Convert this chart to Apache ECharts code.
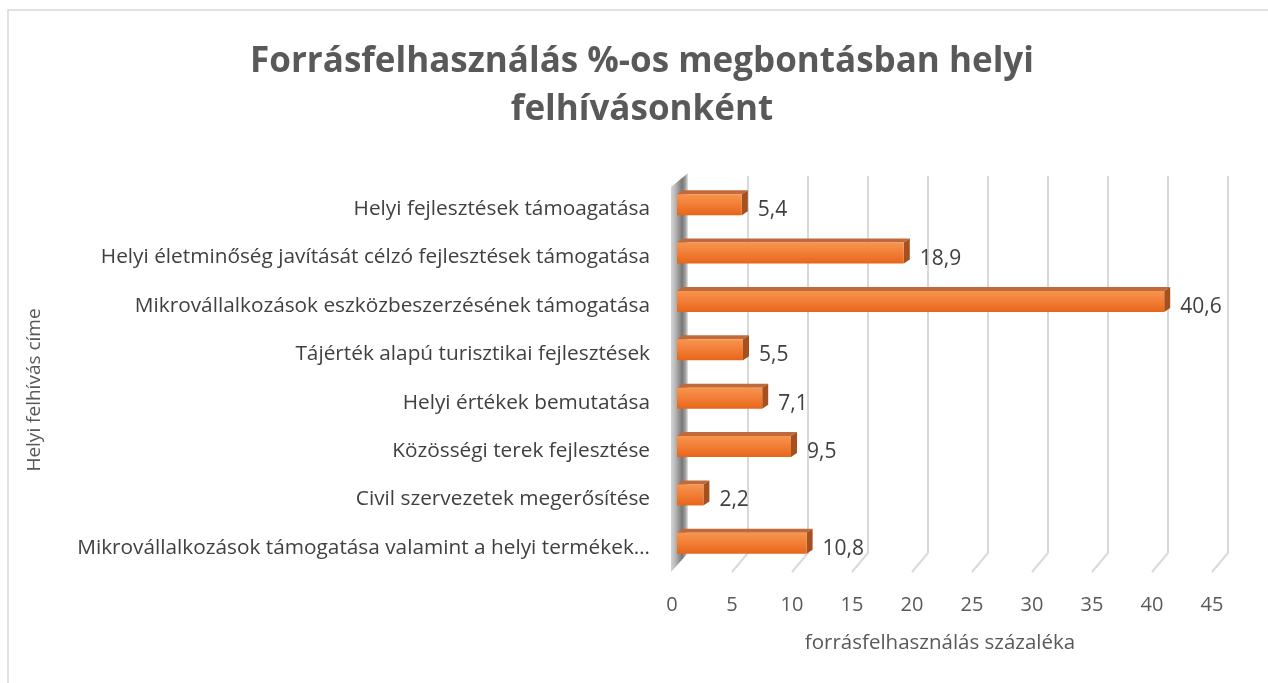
<!DOCTYPE html>
<html><head><meta charset="utf-8">
<script src="https://cdn.jsdelivr.net/npm/echarts@6/dist/echarts.min.js"></script>
<style>html,body{margin:0;padding:0;background:#fff}#c{width:1268px;height:683px}</style>
</head><body><div id="c"></div>
<script>
const titleLines = ['Forrásfelhasználás %-os megbontásban helyi', 'felhívásonként'];
const categories = [
  'Helyi fejlesztések támoagatása',
  'Helyi életminőség javítását célzó fejlesztések támogatása',
  'Mikrovállalkozások eszközbeszerzésének támogatása',
  'Tájérték alapú turisztikai fejlesztések',
  'Helyi értékek bemutatása',
  'Közösségi terek fejlesztése',
  'Civil szervezetek megerősítése',
  'Mikrovállalkozások támogatása valamint a helyi termékek…'
];
const values = [5.4, 18.9, 40.6, 5.5, 7.1, 9.5, 2.2, 10.8];
const xTicks = [0, 5, 10, 15, 20, 25, 30, 35, 40, 45];
const xAxisName = 'forrásfelhasználás százaléka';
const yAxisName = 'Helyi felhívás címe';

const FONT = '"Open Sans", sans-serif';
const TEXT = '#404040';
const BACK_DX = 11, FRONT_DX = -6;

const chart = echarts.init(document.getElementById('c'));
chart.setOption({
  animation: false,
  backgroundColor: '#fff',
  grid: { left: 677, width: 540, top: 185, height: 387, containLabel: false },
  xAxis: {
    type: 'value', min: 0, max: 45, interval: 5,
    axisLine: { show: false }, axisTick: { show: false }, splitLine: { show: false },
    axisLabel: { fontFamily: FONT, fontSize: 20, color: '#595959', margin: 23, padding: [0, 10, 0, 0] }
  },
  yAxis: {
    type: 'category', data: categories, inverse: true,
    axisLine: { show: false }, axisTick: { show: false },
    axisLabel: { fontFamily: FONT, fontSize: 20.8, color: TEXT, margin: 27 }
  },
  graphic: [
    { type: 'rect', silent: true, z: -10, shape: { x: 8, y: 10, width: 1300, height: 700 },
      style: { fill: 'none', stroke: '#d9d9d9', lineWidth: 1.5 } },
    { type: 'text', x: 642, y: 62, style: { text: titleLines[0], fontFamily: FONT, fontWeight: 'bold', fontSize: 35,
      fill: '#595959', align: 'center', verticalAlign: 'middle' } },
    { type: 'text', x: 642, y: 110, style: { text: titleLines[1], fontFamily: FONT, fontWeight: 'bold', fontSize: 35,
      fill: '#595959', align: 'center', verticalAlign: 'middle' } },
    { type: 'text', x: 940, y: 643, style: { text: xAxisName, fontFamily: FONT, fontSize: 20.5,
      fill: '#595959', align: 'center', verticalAlign: 'middle' } },
    { type: 'text', x: 35, y: 390, rotation: Math.PI / 2, style: { text: yAxisName, fontFamily: FONT, fontSize: 19,
      fill: '#595959', align: 'center', verticalAlign: 'middle' } }
  ],
  series: [
    {
      type: 'custom', z: 1, silent: true,
      data: xTicks.map(v => [v, 0]),
      renderItem: function (params, api) {
        const v = api.value(0);
        const x = api.coord([v, 0])[0];
        const cs = params.coordSys;
        const top = cs.y, bottom = cs.y + cs.height;
        if (v === 0) {
          return {
            type: 'polygon',
            shape: { points: [[x + FRONT_DX, top + 2], [x + BACK_DX, top - 12], [x + BACK_DX, bottom - 19], [x + FRONT_DX, bottom]] },
            style: {
              fill: new echarts.graphic.LinearGradient(0, 0, 1, 0, [
                { offset: 0, color: '#d4d4d4' }, { offset: 0.25, color: '#b8b8b8' },
                { offset: 0.65, color: '#777777' }, { offset: 0.85, color: '#a0a0a0' }, { offset: 1, color: '#e4e4e4' }
              ])
            }
          };
        }
        return {
          type: 'polyline',
          shape: { points: [[x + BACK_DX, top - 9], [x + BACK_DX, bottom - 19], [x + FRONT_DX + 1, bottom]] },
          style: { stroke: '#d9d9d9', lineWidth: 2, fill: 'none' }
        };
      }
    },
    {
      type: 'custom', z: 5, silent: true,
      data: values.map((v, i) => [v, i]),
      encode: { x: 0, y: 1 },
      renderItem: function (params, api) {
        const v = api.value(0), i = api.value(1);
        const p0 = api.coord([0, i]), p1 = api.coord([v, i]);
        const c = p0[1];
        const y0 = c - 15, h = 21, dx = 6, dy = 4;
        const x0 = p0[0], x1 = p1[0];
        const lbl = String(v).replace('.', ',');
        return {
          type: 'group',
          children: [
            { type: 'polygon', shape: { points: [[x0, y0], [x0 + dx, y0 - dy], [x1 + dx, y0 - dy], [x1, y0]] },
              style: { fill: '#c0693b' } },
            { type: 'polygon', shape: { points: [[x1, y0], [x1 + dx, y0 - dy], [x1 + dx, y0 + h - dy], [x1, y0 + h]] },
              style: { fill: '#a4501f' } },
            { type: 'rect', shape: { x: x0, y: y0, width: x1 - x0, height: h },
              style: { fill: new echarts.graphic.LinearGradient(0, 0, 0, 1, [
                { offset: 0, color: '#f8954f' }, { offset: 0.5, color: '#f27d35' }, { offset: 1, color: '#e6661a' }
              ]) } },
            { type: 'text', x: x1 + dx + 10, y: c + 1,
              style: { text: lbl, fontFamily: FONT, fontSize: 21, fill: TEXT, align: 'left', verticalAlign: 'middle' } }
          ]
        };
      }
    }
  ]
});
</script></body></html>
